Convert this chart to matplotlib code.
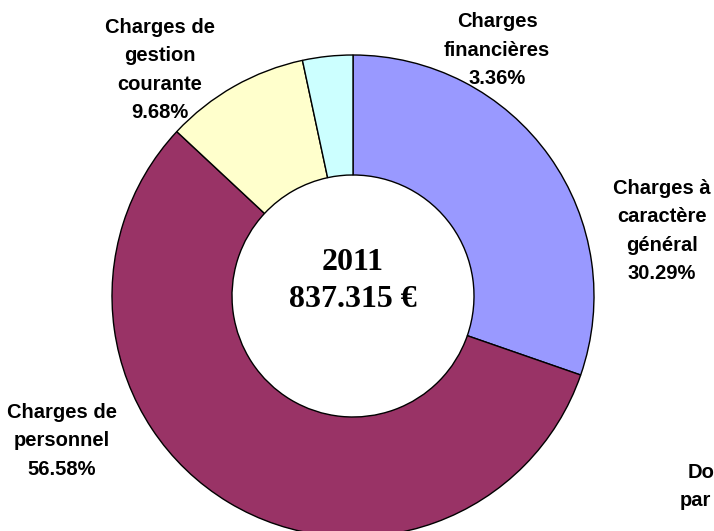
#!/usr/bin/env python3
"""Charges 2011 — donut chart of expense categories."""
import matplotlib

matplotlib.use("Agg")
import matplotlib.pyplot as plt

W, H = 714, 531

categories = [
    "Charges à\ncaractère\ngénéral",
    "Charges de\npersonnel",
    "Charges de\ngestion\ncourante",
    "Charges\nfinancières",
]
shares = [30.29, 56.58, 9.68, 3.36]
year = "2011"
total = "837.315 €"

COLORS = ["#9999FF", "#993366", "#FFFFCC", "#CCFFFF"]
# label centres in pixel coords (from top-left)
LABEL_POS = [(662, 231), (62, 441), (160, 70), (497, 50)]

CX, CY, R, HOLE = 353, 296, 241, 121


def ty(y):
    return H - y


fig = plt.figure(figsize=(W / 100, H / 100), dpi=100)
ax = fig.add_axes([0, 0, 1, 1])
ax.pie(
    shares,
    colors=COLORS,
    startangle=90,
    counterclock=False,
    radius=R,
    center=(CX, ty(CY)),
    wedgeprops=dict(width=R - HOLE, edgecolor="black", linewidth=1.0),
)
ax.set_xlim(0, W)
ax.set_ylim(0, H)
ax.set_aspect("equal")
ax.axis("off")

for name, val, (x, y) in zip(categories, shares, LABEL_POS):
    ax.text(x, ty(y), f"{name}\n{val:.2f}%", ha="center", va="center",
            fontsize=14.5, fontweight="bold", family="Liberation Sans",
            linespacing=1.62, color="black")

ax.text(CX, ty(281), f"{year}\n{total}", ha="center", va="center",
        fontsize=23, fontweight="bold", family="Liberation Serif",
        linespacing=1.4, color="black")

# clipped text at the lower right edge, as in the source image
ax.text(688, ty(472), "Do", ha="left", va="center", fontsize=14.5,
        fontweight="bold", family="Liberation Sans")
ax.text(680, ty(500), "par", ha="left", va="center", fontsize=14.5,
        fontweight="bold", family="Liberation Sans")

fig.savefig("out.png", dpi=100, facecolor="white")
